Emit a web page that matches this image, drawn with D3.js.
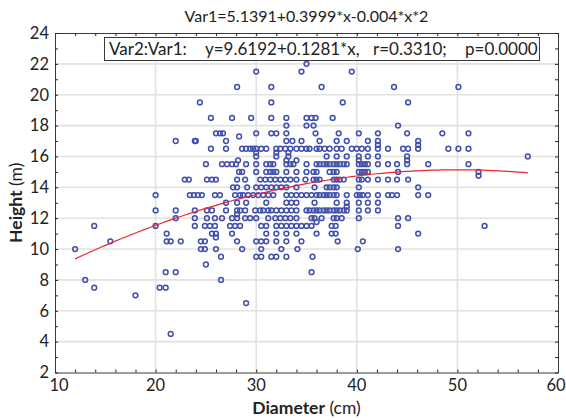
<!DOCTYPE html>
<html>
<head>
<meta charset="utf-8">
<script src="https://cdn.jsdelivr.net/npm/d3@7"></script>
<style>
  body { margin: 0; background: #ffffff; }
  text { font-family: Lato, "Open Sans", sans-serif; fill: #222222; }
</style>
</head>
<body>
<div id="chart"></div>
<script>
// heights (m) are recorded in rows; each row lists the diameters (cm) seen at that height
const heightLevels = [22, 21.5, 20.5, 19.5, 18.5, 18, 17.5, 17.3, 17, 16.75, 16.5, 16.25, 16, 15.75,
  15.5, 15, 14.75, 14.5, 14, 13.5, 13, 12.75, 12.5, 12.25, 12, 11.75, 11.5, 11, 10.75, 10.5,
  10, 9.5, 9, 8.5, 8, 7.5, 7, 6.5, 4.5];

const diametersByLevel = [
  [35.0],
  [30.0, 34.5, 39.5],
  [28.1, 31.5, 36.5, 43.7, 50.1],
  [24.4, 31.5, 38.6, 45.1],
  [25.5, 27.6, 29.5, 31.5, 33.0, 35.0, 35.5, 35.9, 37.6],
  [33.0, 35.0, 35.7, 44.1],
  [26.0, 26.4, 26.7, 30.0, 31.5, 32.0, 33.0, 35.9, 38.2, 40.2, 42.1, 45.0, 48.5, 51.1],
  [28.3],
  [22.0, 23.9, 24.0, 27.0, 33.0, 33.6, 34.5, 36.3, 38.0, 39.0, 41.1, 42.1, 46.1],
  [42.1, 46.1],
  [25.5, 27.0, 28.6, 29.0, 29.4, 29.7, 30.0, 30.5, 31.0, 32.0, 32.4, 32.9, 33.4, 34.0, 34.5, 35.0,
    35.3, 36.0, 36.3, 36.8, 37.3, 38.0, 38.5, 39.5, 40.0, 40.5, 41.1, 42.1, 43.1, 44.6, 45.1, 46.1,
    49.1, 50.1, 51.1],
  [30.0, 32.0, 33.2],
  [30.0, 32.0, 33.2, 37.0, 38.0, 39.0, 40.2, 41.1, 42.1, 45.0, 57.0],
  [28.2, 33.0, 34.0, 40.2, 45.0],
  [25.0, 26.6, 27.1, 27.6, 28.0, 29.0, 30.0, 31.0, 31.4, 31.7, 33.0, 33.4, 33.7, 35.0, 36.0, 36.3,
    36.7, 37.0, 37.3, 37.7, 38.0, 38.3, 38.7, 39.0, 40.2, 40.5, 40.8, 41.1, 42.1, 43.1, 44.0, 45.0,
    47.1, 51.1],
  [28.3, 28.6, 30.0, 31.0, 31.4, 31.7, 32.0, 33.0, 34.0, 35.0, 35.7, 36.0, 37.3, 37.7, 38.0, 40.2,
    40.5, 40.8, 41.1, 44.1, 52.1],
  [52.1],
  [22.9, 23.3, 25.1, 25.6, 26.0, 28.1, 28.9, 30.4, 30.9, 31.4, 31.9, 32.4, 32.9, 33.4, 34.0, 34.9,
    35.7, 36.0, 36.3, 37.7, 38.0, 38.3, 38.7, 40.2, 40.5, 41.1, 42.1, 43.1, 44.0, 45.1],
  [27.7, 28.1, 29.1, 30.0, 30.5, 31.0, 31.5, 32.0, 32.5, 33.0, 34.0, 35.8, 37.0, 37.3, 37.7, 38.0,
    40.2, 46.1],
  [20.0, 23.4, 23.8, 24.2, 24.6, 25.9, 26.4, 27.9, 28.4, 28.7, 29.2, 29.7, 30.2, 30.7, 31.2, 31.7,
    33.0, 33.5, 34.0, 34.5, 35.0, 35.5, 36.0, 36.3, 36.7, 37.0, 37.3, 37.7, 38.0, 39.0, 40.0, 40.3,
    40.6, 41.1, 42.1, 43.1, 43.5, 44.0, 46.1, 47.1],
  [27.0, 28.1, 29.0, 31.0, 33.0, 33.5, 34.0, 35.8, 38.0, 39.0, 40.2, 41.1, 42.1],
  [39.0],
  [20.0, 22.0, 23.9, 25.1, 25.6, 27.0, 28.1, 28.4, 28.9, 29.9, 30.4, 30.7, 31.2, 31.5, 32.0, 32.5,
    33.0, 33.5, 34.0, 35.0, 35.3, 35.7, 36.0, 36.3, 36.7, 37.0, 37.3, 37.7, 38.0, 38.3, 38.7, 39.0,
    40.2, 41.1, 42.1],
  [28.1],
  [22.0, 23.9, 25.1, 25.9, 26.6, 27.6, 28.1, 28.9, 29.4, 30.0, 31.2, 31.9, 32.4, 32.9, 33.4, 34.0,
    35.5, 35.8, 36.5, 37.7, 38.0, 38.5, 40.2, 44.1, 45.1],
  [36.0],
  [13.9, 20.0, 23.9, 24.9, 25.4, 25.9, 27.4, 27.9, 28.4, 30.5, 31.0, 32.0, 32.5, 33.0, 33.5, 34.0,
    34.5, 35.0, 35.5, 37.5, 37.9, 44.1, 52.7],
  [21.1, 25.6, 26.0, 27.6, 31.0, 32.0, 33.0, 34.0, 36.0, 37.5, 37.9, 46.1],
  [26.0],
  [15.5, 21.1, 21.5, 22.5, 24.5, 24.9, 28.1, 30.0, 30.5, 31.0, 32.0, 33.0, 34.5, 38.1, 40.6],
  [12.0, 24.5, 24.9, 26.0, 28.6, 30.5, 32.5, 34.1, 40.1, 44.1],
  [26.5, 30.0, 30.5, 31.5, 32.0, 33.0, 35.6],
  [25.0],
  [21.0, 22.0, 35.5],
  [13.0, 26.5],
  [13.9, 20.4, 21.0],
  [18.0],
  [29.0],
  [21.5]
];

// fitted curve printed in the title: Var1 = a + b*x + c*x^2
const fitCoefficients = [5.1391, 0.3999, -0.004];
const fitDiameters = d3.range(12, 57.01, 0.5);

const xTicks = [10, 20, 30, 40, 50, 60];
const yTicks = [2, 4, 6, 8, 10, 12, 14, 16, 18, 20, 22, 24];

const titleText = "Var1=5.1391+0.3999*x-0.004*x*2";
const legendParts = ["Var2:Var1:", "y=9.6192+0.1281*x,", "r=0.3310;", "p=0.0000"];

const W = 566, H = 420;
const margin = { top: 33, right: 8, bottom: 47.5, left: 55 };

const svg = d3.select("#chart").append("svg")
  .attr("width", W)
  .attr("height", H);

const x = d3.scaleLinear().domain([10, 60]).range([margin.left, W - margin.right]);
const y = d3.scaleLinear().domain([2, 24]).range([H - margin.bottom, margin.top]);

const x0 = x.range()[0], x1 = x.range()[1];
const y0 = y.range()[0], y1 = y.range()[1];

// grid
svg.append("g")
  .selectAll("line")
  .data(xTicks.slice(1, -1))
  .enter().append("line")
  .attr("x1", d => x(d)).attr("x2", d => x(d))
  .attr("y1", y1).attr("y2", y0)
  .attr("stroke", "#e2e2e2").attr("stroke-width", 1.6);

svg.append("g")
  .selectAll("line")
  .data(yTicks.slice(1, -1))
  .enter().append("line")
  .attr("x1", x0).attr("x2", x1)
  .attr("y1", d => y(d)).attr("y2", d => y(d))
  .attr("stroke", "#e2e2e2").attr("stroke-width", 1.6);

// axes: ticks point inward on all four sides
const tickStyle = g => {
  g.select(".domain").attr("stroke", "#3a3a3a");
  g.selectAll(".tick line").attr("stroke", "#222222");
};

const xMinor = d3.range(10, 60.01, 2);
const yMinor = d3.range(2, 24.01, 1);

svg.append("g")
  .attr("transform", `translate(0,${y0})`)
  .call(d3.axisBottom(x).tickValues(xMinor).tickSize(-3).tickSizeOuter(0).tickFormat(""))
  .call(tickStyle);

svg.append("g")
  .attr("transform", `translate(0,${y1})`)
  .call(d3.axisTop(x).tickValues(xMinor).tickSize(-3).tickSizeOuter(0).tickFormat(""))
  .call(tickStyle);

svg.append("g")
  .attr("transform", `translate(${x0},0)`)
  .call(d3.axisLeft(y).tickValues(yMinor).tickSize(-3).tickSizeOuter(0).tickFormat(""))
  .call(tickStyle);

svg.append("g")
  .attr("transform", `translate(${x1},0)`)
  .call(d3.axisRight(y).tickValues(yMinor).tickSize(-3).tickSizeOuter(0).tickFormat(""))
  .call(tickStyle);

// tick labels
svg.append("g")
  .selectAll("text")
  .data(xTicks)
  .enter().append("text")
  .attr("x", (d, i) => x(d) + (i === 0 ? 4 : i === xTicks.length - 1 ? -2 : 0))
  .attr("y", y0 + 18)
  .attr("text-anchor", "middle")
  .attr("font-size", 16.5)
  .text(d => d);

svg.append("g")
  .selectAll("text")
  .data(yTicks)
  .enter().append("text")
  .attr("x", x0 - 6)
  .attr("y", d => y(d))
  .attr("dy", "0.35em")
  .attr("text-anchor", "end")
  .attr("font-size", 16.5)
  .text(d => d);

// points
const points = [];
heightLevels.forEach((h, i) => {
  diametersByLevel[i].forEach(dm => points.push({ diameter: dm, height: h }));
});

svg.append("g")
  .selectAll("circle")
  .data(points)
  .enter().append("circle")
  .attr("cx", d => x(d.diameter))
  .attr("cy", d => y(d.height))
  .attr("r", 2.4)
  .attr("fill", "none")
  .attr("stroke", "#4050aa")
  .attr("stroke-width", 1.5);

// fitted curve
const fit = fitDiameters.map(dm => ({
  diameter: dm,
  height: fitCoefficients[0] + fitCoefficients[1] * dm + fitCoefficients[2] * dm * dm
}));

svg.append("path")
  .datum(fit)
  .attr("fill", "none")
  .attr("stroke", "#e8282c")
  .attr("stroke-width", 1.2)
  .attr("d", d3.line().x(d => x(d.diameter)).y(d => y(d.height)));

// legend box
svg.append("rect")
  .attr("x", 104.5).attr("y", 37.5)
  .attr("width", 435).attr("height", 23)
  .attr("fill", "#ffffff")
  .attr("stroke", "#3a3a3a");

const legendX = [109, 205, 373, 465];
svg.append("g")
  .selectAll("text")
  .data(legendParts)
  .enter().append("text")
  .attr("x", (d, i) => legendX[i])
  .attr("y", 55)
  .attr("font-size", 17)
  .text(d => d);

// title
svg.append("text")
  .attr("x", (x0 + x1) / 2)
  .attr("y", 22)
  .attr("text-anchor", "middle")
  .attr("font-size", 16)
  .text(titleText);

// axis titles
const xTitle = svg.append("text")
  .attr("x", (x0 + x1) / 2)
  .attr("y", 414)
  .attr("text-anchor", "middle")
  .attr("font-size", 17.5);
xTitle.append("tspan").attr("font-weight", "bold").text("Diameter");
xTitle.append("tspan").text(" (cm)");

const yTitle = svg.append("text")
  .attr("transform", `translate(22,${(y0 + y1) / 2}) rotate(-90)`)
  .attr("text-anchor", "middle")
  .attr("font-size", 17.5);
yTitle.append("tspan").attr("font-weight", "bold").text("Height");
yTitle.append("tspan").text(" (m)");
</script>
</body>
</html>
